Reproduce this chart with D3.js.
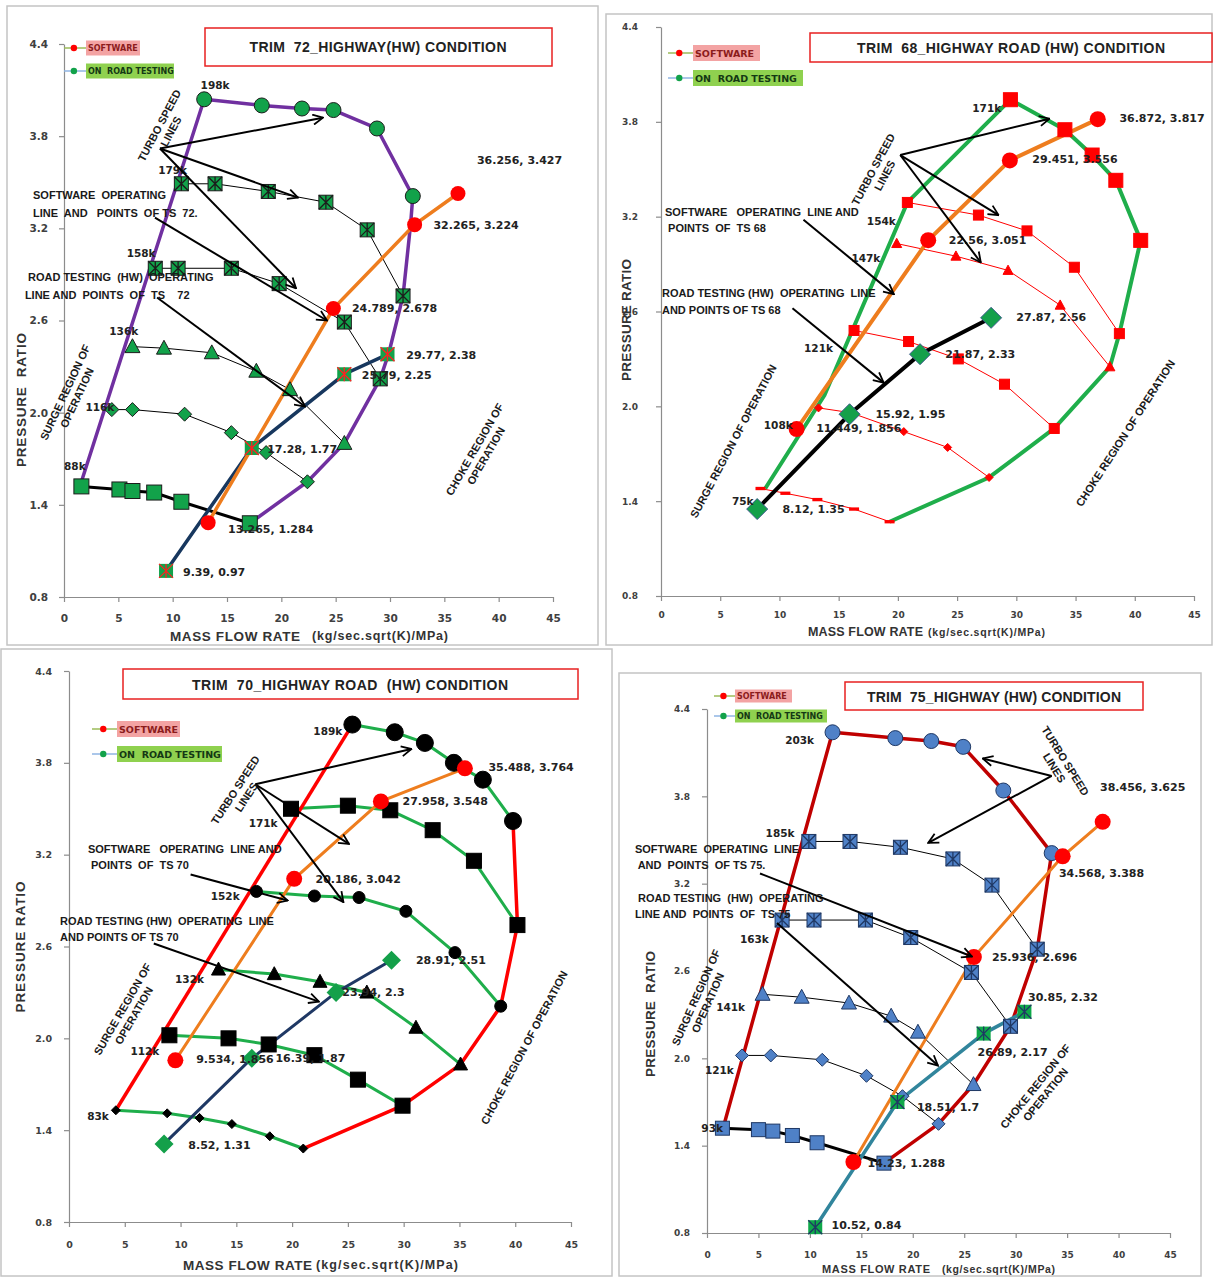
<!DOCTYPE html>
<html>
<head>
<meta charset="utf-8">
<script src="https://cdn.jsdelivr.net/npm/d3@7"></script>
<style>
  body { margin: 0; background: #fff; }
  svg { display: block; }
</style>
</head>
<body>
<script>
// ---------- data ----------
const xTicks = [0, 5, 10, 15, 20, 25, 30, 35, 40, 45];
const yTicks = [0.8, 1.4, 2.0, 2.6, 3.2, 3.8, 4.4];
const legendNames = ["SOFTWARE", "ON  ROAD TESTING"];

// TRIM 72 - highway
const t72Speeds = ["198k", "179k", "158k", "136k", "116k", "88k"];
const t72Lines = [
  [[12.9,4.04],[18.2,4.0],[21.9,3.98],[24.8,3.97],[28.8,3.85],[32.1,3.41]],
  [[10.8,3.49],[13.9,3.49],[18.8,3.44],[24.1,3.37],[27.9,3.19],[31.2,2.76]],
  [[8.4,2.94],[10.5,2.94],[15.4,2.94],[19.8,2.84],[25.8,2.59],[29.1,2.22]],
  [[6.3,2.43],[9.2,2.42],[13.6,2.39],[17.7,2.27],[20.8,2.15],[25.8,1.80]],
  [[4.4,2.02],[6.3,2.02],[11.1,1.99],[15.4,1.87],[18.6,1.74],[22.4,1.55]],
  [[1.6,1.52],[5.1,1.50],[6.3,1.49],[8.3,1.48],[10.8,1.42],[17.1,1.28]]
];
const t72Edge = [[[1.6,1.55],[12.9,4.04],[18.2,4.0],[21.9,3.98],[24.8,3.97],[28.8,3.85],[32.1,3.41],
  [31.9,3.23],[31.2,2.76],[29.9,2.39],[29.1,2.22],[25.8,1.80],[22.4,1.55],[17.1,1.28]]];
const t72Soft = [[13.265,1.284],[24.789,2.678],[32.265,3.224],[36.256,3.427]];
const t72Road = [[9.39,0.97],[17.28,1.77],[25.79,2.25],[29.77,2.38]];

// TRIM 68 - highway road
const t68Speeds = ["171k", "154k", "147k", "121k", "108k", "75k"];
const t68Lines = [
  [[29.5,3.94],[34.1,3.75],[36.4,3.59],[38.4,3.43],[40.5,3.05]],
  [[20.8,3.29],[26.8,3.21],[30.9,3.11],[34.9,2.88],[38.7,2.46]],
  [[19.9,3.03],[24.9,2.95],[29.3,2.86],[33.7,2.64],[37.9,2.25]],
  [[16.3,2.48],[20.9,2.41],[25.1,2.30],[29.0,2.14],[33.2,1.86]],
  [[13.3,1.99],[16.0,1.96],[20.5,1.84],[24.2,1.74],[27.7,1.55]],
  [[8.4,1.48],[10.5,1.45],[13.2,1.41],[16.3,1.35],[19.3,1.27]]
];
const t68Edge = [[[8.8,1.48],[13.8,2.07],[20.8,3.29],[29.5,3.94],[34.1,3.75],[36.4,3.59],[38.4,3.43],
  [40.5,3.05],[38.7,2.46],[37.9,2.25],[33.2,1.86],[27.7,1.55],[19.3,1.27]]];
const t68Soft = [[11.449,1.856],[22.56,3.051],[29.451,3.556],[36.872,3.817]];
const t68Road = [[8.12,1.35],[15.92,1.95],[21.87,2.33],[27.87,2.56]];

// TRIM 70 - highway road
const t70Speeds = ["189k", "171k", "152k", "132k", "112k", "83k"];
const t70Lines = [
  [[25.4,4.05],[29.2,4.0],[31.9,3.93],[34.5,3.80],[37.1,3.69],[39.8,3.42]],
  [[19.9,3.50],[25.0,3.52],[28.8,3.49],[32.6,3.36],[36.3,3.16],[40.2,2.74]],
  [[16.8,2.96],[22.0,2.93],[26.0,2.92],[30.2,2.83],[34.6,2.56],[38.7,2.21]],
  [[13.4,2.45],[18.4,2.42],[22.5,2.37],[26.7,2.30],[31.1,2.07],[35.1,1.83]],
  [[9.0,2.02],[14.3,2.0],[17.9,1.96],[22.0,1.89],[25.9,1.73],[29.9,1.56]],
  [[4.2,1.53],[8.8,1.51],[11.7,1.48],[14.6,1.44],[18.0,1.36],[21.0,1.28]]
];
const t70Edge = [[[4.2,1.53],[25.4,4.05]],
  [[39.8,3.42],[40.2,2.74],[38.7,2.21],[35.1,1.83],[29.9,1.56],[21.0,1.28]]];
const t70Soft = [[9.534,1.856],[20.186,3.042],[27.958,3.548],[35.488,3.764]];
const t70Road = [[8.52,1.31],[16.39,1.87],[23.94,2.3],[28.91,2.51]];

// TRIM 75 - highway
const t75Speeds = ["203k", "185k", "163k", "141k", "121k", "93k"];
const t75Lines = [
  [[12.2,4.24],[18.3,4.20],[21.8,4.18],[24.9,4.14],[28.8,3.84],[33.5,3.41]],
  [[9.9,3.49],[13.9,3.49],[18.8,3.45],[23.9,3.37],[27.7,3.19],[32.1,2.75]],
  [[7.3,2.95],[10.4,2.95],[15.4,2.95],[19.8,2.83],[25.7,2.59],[29.5,2.22]],
  [[5.4,2.44],[9.2,2.42],[13.8,2.38],[17.9,2.29],[20.5,2.18],[25.9,1.82]],
  [[3.4,2.02],[6.2,2.02],[11.2,1.99],[15.5,1.88],[19.0,1.74],[22.5,1.55]],
  [[1.5,1.52],[5.0,1.51],[6.4,1.50],[8.3,1.47],[10.7,1.42],[17.2,1.28]]
];
const t75Edge = [[[1.6,1.53],[12.2,4.24],[18.3,4.20],[21.8,4.18],[24.9,4.14],[28.8,3.84],[33.5,3.41],
  [32.1,2.75],[29.5,2.22],[25.9,1.82],[22.5,1.55],[17.2,1.28]]];
const t75Soft = [[14.23,1.288],[25.936,2.696],[34.568,3.388],[38.456,3.625]];
const t75Road = [[10.52,0.84],[18.51,1.7],[26.89,2.17],[30.85,2.32]];

// ---------- layout / style per panel ----------
const ORANGE = "#ee7d1e";
const panels = [
  {
    frame: [7, 6, 598, 645], plot: [64, 553, 597, 44], xPad: 13, yPad: 11, tickFs: 10.5,
    title: "TRIM  72_HIGHWAY(HW) CONDITION", tBox: [205, 28, 552, 66], tPos: [378, 47, 257],
    yTitle: ["PRESSURE  RATIO", 21, 400, 134], xTitle: [170, 636, 130, 312, 136, 13.5, 12.5],
    leg: {x: 64, bx: 86, y: 48, dy: 23, h: 15, w: [54, 88], fs: 8},
    speeds: t72Speeds, lines: t72Lines, edge: t72Edge, soft: t72Soft, road: t72Road,
    spColor: "#000", spW: [1, 1, 1, 1, 1, 3],
    shapes: ["circle", "xsquare", "xsquare", "triangle", "diamond", "square"], sizes: [15, 14, 14, 15, 14, 15],
    mFill: "#12a24a", mStroke: "#1c1c1c", xColor: "#1c1c1c",
    edgeColor: "#7030a0", edgeW: 3.5, softW: 3.5, softR: 7.5,
    roadColor: "#17375e", roadW: 3.5, roadShape: "xsquare", roadSize: 14, roadFill: "#12a24a", roadX: "#ff2020", roadStroke: "none",
    speedLab: [[13.9,4.13],[10.0,3.58],[7.1,3.04],[5.5,2.53],[3.3,2.04],[1.0,1.65]],
    softLab: [[15.1,1.24],[26.5,2.675],[34.0,3.22],[38.0,3.64]],
    roadLab: [[10.95,0.96],[18.7,1.76],[27.4,2.245],[31.5,2.375]],
    arrows: [[8.83,3.72,23.83,3.92],[8.83,3.72,21.53,3.40],[8.83,3.72,21.35,2.81],[8.37,3.27,24.2,2.60],[8.56,2.75,22.18,2.04]],
    notes: [
      {x: 9.3, y: 3.85, rot: -62, lh: 13, lines: ["TURBO SPEED", "LINES"]},
      {x: -2.85, y: 3.36, anchor: "start", lh: 18, lines: ["SOFTWARE  OPERATING", "LINE  AND   POINTS  OF TS  72."]},
      {x: -3.6, y: 2.825, anchor: "start", lh: 18, lines: [" ROAD TESTING  (HW)  OPERATING", "LINE AND  POINTS  OF  TS    72"]},
      {x: 0.64, y: 2.115, rot: -65, lh: 13, lines: ["SURGE REGION OF", "OPERATION"]},
      {x: 38.3, y: 1.74, rot: -60, lh: 13, lines: ["CHOKE REGION OF", "OPERATION"]}
    ]
  },
  {
    frame: [606, 14, 1212, 645], plot: [661, 1194, 596, 27], xPad: 11, yPad: 18, tickFs: 9,
    title: "TRIM  68_HIGHWAY ROAD (HW) CONDITION", tBox: [810, 33, 1212, 62], tPos: [1011, 48, 308],
    yTitle: ["PRESSURE RATIO", 626, 320, 122], xTitle: [808, 632, 115, 928, 117, 12.5, 10.5],
    leg: {x: 668, bx: 693, y: 53, dy: 25, h: 16, w: [67, 110], fs: 9.5},
    speeds: t68Speeds, lines: t68Lines, edge: t68Edge, soft: t68Soft, road: t68Road,
    spColor: "#ff0000", spW: [1, 1, 1, 1, 1, 1],
    shapes: ["square", "square", "triangle", "square", "diamond", "dash"], sizes: [14, 10, 10, 10, 8, 10],
    mFill: "#ff0000", mStroke: "#ff0000", xColor: "#c00000",
    edgeColor: "#1fae4b", edgeW: 4, softW: 4, softR: 8,
    roadColor: "#000", roadW: 4, roadShape: "diamond", roadSize: 21, roadFill: "#14a04a", roadX: "none", roadStroke: "#3a5a8a",
    speedLab: [[27.5,3.89],[18.6,3.17],[17.3,2.94],[13.3,2.37],[9.9,1.88],[6.9,1.40]],
    softLab: [[13.1,1.86],[24.3,3.05],[31.35,3.56],[38.7,3.82]],
    roadLab: [[10.25,1.345],[18.1,1.95],[24.0,2.33],[30.0,2.56]],
    arrows: [[20.2,3.59,32.8,3.82],[20.2,3.59,28.5,3.21],[20.2,3.59,27.0,2.91],[12.03,3.18,19.66,2.71],[11.1,2.62,18.8,2.15]],
    notes: [
      {x: 18.4, y: 3.48, rot: -62, lh: 13, lines: ["TURBO SPEED", "LINES"]},
      {x: 0.34, y: 3.18, anchor: "start", lh: 16, lines: ["SOFTWARE   OPERATING  LINE AND", " POINTS  OF  TS 68"]},
      {x: 0.08, y: 2.665, anchor: "start", lh: 17, lines: ["ROAD TESTING (HW)  OPERATING  LINE", "AND POINTS OF TS 68"]},
      {x: 6.1, y: 1.78, rot: -62, lh: 13, lines: ["SURGE REGION OF OPERATION"]},
      {x: 39.2, y: 1.83, rot: -57, lh: 13, lines: ["CHOKE REGION OF OPERATION"]}
    ]
  },
  {
    frame: [1, 649, 612, 1276], plot: [69, 571, 1222, 671], xPad: 14, yPad: 12, tickFs: 9.5,
    title: "TRIM  70_HIGHWAY ROAD  (HW) CONDITION", tBox: [123, 669, 578, 699], tPos: [350, 685, 316],
    yTitle: ["PRESSURE RATIO", 20, 947, 131], xTitle: [183, 1265, 129, 316, 142, 13.5, 12.5],
    leg: {x: 92, bx: 117, y: 729, dy: 25, h: 16, w: [63, 105], fs: 9.5},
    speeds: t70Speeds, lines: t70Lines, edge: t70Edge, soft: t70Soft, road: t70Road,
    spColor: "#1fae4b", spW: [3, 3, 3, 3, 3, 3],
    shapes: ["circle", "square", "circle", "triangle", "square", "diamond"], sizes: [17, 15, 12, 14, 15, 9],
    mFill: "#000", mStroke: "#000", xColor: "#000",
    edgeColor: "#ff0000", edgeW: 3.5, softW: 3, softR: 8,
    roadColor: "#1f3864", roadW: 3, roadShape: "diamond", roadSize: 19, roadFill: "#14a04a", roadX: "none", roadStroke: "none",
    speedLab: [[23.2,4.01],[17.4,3.41],[14.0,2.93],[10.8,2.39],[6.8,1.92],[2.6,1.49]],
    softLab: [[11.4,1.86],[22.1,3.04],[29.9,3.55],[37.6,3.77]],
    roadLab: [[10.7,1.30],[18.5,1.87],[24.5,2.30],[31.1,2.51]],
    arrows: [[16.7,3.66,30.7,3.89],[16.7,3.66,25.1,3.27],[16.7,3.66,24.6,2.89],[10.9,3.07,19.6,2.90],[7.6,2.62,22.4,2.24]],
    notes: [
      {x: 15.4, y: 3.60, rot: -57, lh: 13, lines: ["TURBO SPEED", "LINES"]},
      {x: 1.7, y: 3.185, anchor: "start", lh: 16, lines: ["SOFTWARE   OPERATING  LINE AND", " POINTS  OF  TS 70"]},
      {x: -0.8, y: 2.715, anchor: "start", lh: 16, lines: ["ROAD TESTING (HW)  OPERATING  LINE", "AND POINTS OF TS 70"]},
      {x: 5.3, y: 2.17, rot: -60, lh: 13, lines: ["SURGE REGION OF", "OPERATION"]},
      {x: 40.8, y: 1.94, rot: -62, lh: 13, lines: ["CHOKE REGION OF OPERATION"]}
    ]
  },
  {
    frame: [619, 673, 1201, 1276], plot: [707, 1170, 1233, 709], xPad: 14, yPad: 12, tickFs: 9,
    title: "TRIM  75_HIGHWAY (HW) CONDITION", tBox: [845, 682, 1143, 710], tPos: [994, 697, 254],
    yTitle: ["PRESSURE  RATIO", 650, 1014, 126], xTitle: [822, 1269, 108, 942, 113, 11, 10.5],
    leg: {x: 714, bx: 735, y: 696, dy: 20, h: 13, w: [57, 92], fs: 8},
    speeds: t75Speeds, lines: t75Lines, edge: t75Edge, soft: t75Soft, road: t75Road,
    spColor: "#000", spW: [1, 1, 1, 1, 1, 3],
    shapes: ["circle", "xsquare", "xsquare", "triangle", "diamond", "square"], sizes: [15, 14, 14, 15, 13, 14],
    mFill: "#4f81c7", mStroke: "#1f3864", xColor: "#1f3864",
    edgeColor: "#c00000", edgeW: 3.5, softW: 3, softR: 8,
    roadColor: "#31859c", roadW: 3.5, roadShape: "xsquare", roadSize: 14, roadFill: "#0fa84a", roadX: "#1f3864", roadStroke: "none",
    speedLab: [[9.0,4.19],[7.1,3.55],[4.6,2.82],[2.3,2.35],[1.2,1.92],[0.5,1.52]],
    softLab: [[15.6,1.28],[27.7,2.69],[34.2,3.27],[38.2,3.86]],
    roadLab: [[12.1,0.85],[20.4,1.66],[26.3,2.04],[31.2,2.42]],
    arrows: [[33.5,3.94,26.8,4.06],[33.5,3.94,21.5,3.48],[5.15,3.27,25.75,2.70],[6.8,2.93,22.45,1.95]],
    notes: [
      {x: 34.3, y: 4.02, rot: 58, lh: 13, lines: ["TURBO SPEED", "LINES"]},
      {x: -7.0, y: 3.38, anchor: "start", lh: 16, lines: ["SOFTWARE  OPERATING  LINE", " AND  POINTS  OF TS 75."]},
      {x: -7.0, y: 3.045, anchor: "start", lh: 16, lines: [" ROAD TESTING  (HW)  OPERATING", "LINE AND  POINTS  OF  TS 75"]},
      {x: -0.5, y: 2.40, rot: -66, lh: 13, lines: ["SURGE REGION OF", "OPERATION"]},
      {x: 32.4, y: 1.78, rot: -51, lh: 13, lines: ["CHOKE REGION OF", "OPERATION"]}
    ]
  }
];

// ---------- drawing ----------
const SANS = "'Liberation Sans', Arial, sans-serif";
const WIDE = "'DejaVu Sans', Verdana, sans-serif";

const svg = d3.select("body").append("svg")
  .attr("width", 1213).attr("height", 1277)
  .style("font-family", SANS);

svg.append("defs").append("marker")
  .attr("id", "arr").attr("viewBox", "0 0 12 12")
  .attr("refX", 11).attr("refY", 6)
  .attr("markerWidth", 12).attr("markerHeight", 12)
  .attr("markerUnits", "userSpaceOnUse").attr("orient", "auto")
  .append("path").attr("d", "M1,1 L11,6 L1,11")
  .attr("fill", "none").attr("stroke", "#000").attr("stroke-width", 1.8);

function mark(g, shape, px, py, s, fill, stroke, xc) {
  const h = s / 2;
  if (shape === "circle") {
    g.append("circle").attr("cx", px).attr("cy", py).attr("r", h)
      .attr("fill", fill).attr("stroke", stroke).attr("stroke-width", 1);
  } else if (shape === "square" || shape === "xsquare") {
    g.append("rect").attr("x", px - h).attr("y", py - h).attr("width", s).attr("height", s)
      .attr("fill", fill).attr("stroke", stroke).attr("stroke-width", 1);
    if (shape === "xsquare" && xc !== "none") {
      g.append("path")
        .attr("d", `M${px-h},${py-h}L${px+h},${py+h}M${px+h},${py-h}L${px-h},${py+h}M${px},${py-h}L${px},${py+h}`)
        .attr("stroke", xc).attr("stroke-width", 1.3);
    }
  } else if (shape === "triangle") {
    g.append("path").attr("d", `M${px},${py-h*1.05}L${px+h},${py+h*0.8}L${px-h},${py+h*0.8}Z`)
      .attr("fill", fill).attr("stroke", stroke).attr("stroke-width", 1);
  } else if (shape === "diamond") {
    g.append("path").attr("d", `M${px},${py-h}L${px+h},${py}L${px},${py+h}L${px-h},${py}Z`)
      .attr("fill", fill).attr("stroke", stroke).attr("stroke-width", 1);
  } else if (shape === "dash") {
    g.append("rect").attr("x", px - h).attr("y", py - s / 6).attr("width", s).attr("height", s / 3)
      .attr("fill", fill);
  }
}

function drawPanel(p) {
  const g = svg.append("g");
  const x = d3.scaleLinear().domain([0, 45]).range([p.plot[0], p.plot[1]]);
  const y = d3.scaleLinear().domain([0.8, 4.4]).range([p.plot[2], p.plot[3]]);
  const line = d3.line().x(d => x(d[0])).y(d => y(d[1]));

  g.append("rect")
    .attr("x", p.frame[0]).attr("y", p.frame[1])
    .attr("width", p.frame[2] - p.frame[0]).attr("height", p.frame[3] - p.frame[1])
    .attr("fill", "#fff").attr("stroke", "#c4c4c4").attr("stroke-width", 1.5);

  // axes
  const ax = g.append("g").attr("transform", `translate(0,${p.plot[2]})`)
    .call(d3.axisBottom(x).tickValues(xTicks).tickSize(5).tickSizeOuter(0)
      .tickPadding(p.xPad).tickFormat(d3.format("d")));
  const ay = g.append("g").attr("transform", `translate(${p.plot[0]},0)`)
    .call(d3.axisLeft(y).tickValues(yTicks).tickSize(5).tickSizeOuter(0)
      .tickPadding(p.yPad).tickFormat(d3.format(".1f")));
  [ax, ay].forEach(a => {
    a.selectAll("path,line").attr("stroke", "#8c8c8c").attr("stroke-width", 1.2);
    a.selectAll("text").attr("font-size", p.tickFs).attr("font-weight", "bold")
      .attr("fill", "#404040").attr("font-family", WIDE);
  });

  // axis titles
  g.append("text")
    .attr("transform", `translate(${p.yTitle[1]},${p.yTitle[2]}) rotate(-90)`)
    .attr("text-anchor", "middle").attr("dominant-baseline", "central")
    .attr("font-size", 13.5).attr("font-weight", "bold").attr("fill", "#333")
    .attr("textLength", p.yTitle[3]).attr("xml:space", "preserve").style("white-space", "pre")
    .text(p.yTitle[0]);
  const xt = p.xTitle;
  g.append("text").attr("x", xt[0]).attr("y", xt[1]).attr("dominant-baseline", "central")
    .attr("font-size", xt[5]).attr("font-weight", "bold").attr("fill", "#333")
    .attr("textLength", xt[2]).text("MASS FLOW RATE");
  g.append("text").attr("x", xt[3]).attr("y", xt[1]).attr("dominant-baseline", "central")
    .attr("font-size", xt[6]).attr("font-weight", "bold").attr("fill", "#333")
    .attr("textLength", xt[4]).text("(kg/sec.sqrt(K)/MPa)");

  // lines
  g.selectAll(null).data(p.lines).join("path")
    .attr("d", line).attr("fill", "none")
    .attr("stroke", p.spColor).attr("stroke-width", (d, i) => p.spW[i]);
  g.selectAll(null).data(p.edge).join("path")
    .attr("d", line).attr("fill", "none")
    .attr("stroke", p.edgeColor).attr("stroke-width", p.edgeW).attr("stroke-linejoin", "round");
  g.append("path").datum(p.road).attr("d", line).attr("fill", "none")
    .attr("stroke", p.roadColor).attr("stroke-width", p.roadW);
  g.append("path").datum(p.soft).attr("d", line).attr("fill", "none")
    .attr("stroke", ORANGE).attr("stroke-width", p.softW);

  // markers
  p.lines.forEach((pts, i) => {
    pts.forEach(d => mark(g, p.shapes[i], x(d[0]), y(d[1]), p.sizes[i], p.mFill, p.mStroke, p.xColor));
  });
  p.soft.forEach(d => g.append("circle").attr("cx", x(d[0])).attr("cy", y(d[1]))
    .attr("r", p.softR).attr("fill", "#ff0000"));
  p.road.forEach(d => mark(g, p.roadShape, x(d[0]), y(d[1]), p.roadSize, p.roadFill, p.roadStroke, p.roadX));

  // speed labels
  g.selectAll(null).data(p.speeds).join("text")
    .attr("x", (d, i) => x(p.speedLab[i][0])).attr("y", (d, i) => y(p.speedLab[i][1]))
    .attr("text-anchor", "middle").attr("dominant-baseline", "central")
    .attr("font-family", WIDE).attr("font-size", 10.5).attr("font-weight", "bold").attr("fill", "#222")
    .text(d => d);

  // value labels
  const valLabel = (pts, pos) => g.selectAll(null).data(pts).join("text")
    .attr("x", (d, i) => x(pos[i][0])).attr("y", (d, i) => y(pos[i][1]))
    .attr("dominant-baseline", "central")
    .attr("font-family", WIDE).attr("font-size", 11).attr("font-weight", "bold").attr("fill", "#222")
    .text(d => `${d[0]}, ${d[1]}`);
  valLabel(p.soft, p.softLab);
  valLabel(p.road, p.roadLab);

  // annotation arrows and notes
  g.selectAll(null).data(p.arrows).join("line")
    .attr("x1", d => x(d[0])).attr("y1", d => y(d[1]))
    .attr("x2", d => x(d[2])).attr("y2", d => y(d[3]))
    .attr("stroke", "#000").attr("stroke-width", 2).attr("marker-end", "url(#arr)");
  p.notes.forEach(t => {
    const tg = g.append("g").attr("transform", `translate(${x(t.x)},${y(t.y)}) rotate(${t.rot || 0})`);
    const n = t.lines.length;
    t.lines.forEach((s, i) => tg.append("text")
      .attr("x", 0).attr("y", (i - (n - 1) / 2) * t.lh)
      .attr("text-anchor", t.anchor || "middle").attr("dominant-baseline", "central")
      .attr("font-size", 11).attr("font-weight", "bold").attr("fill", "#1a1a1a")
      .attr("xml:space", "preserve").style("white-space", "pre")
      .text(s));
  });

  // title
  g.append("rect").attr("x", p.tBox[0]).attr("y", p.tBox[1])
    .attr("width", p.tBox[2] - p.tBox[0]).attr("height", p.tBox[3] - p.tBox[1])
    .attr("fill", "#fff").attr("stroke", "#e82020").attr("stroke-width", 1.5);
  g.append("text").attr("x", p.tPos[0]).attr("y", p.tPos[1])
    .attr("text-anchor", "middle").attr("dominant-baseline", "central")
    .attr("font-size", 14).attr("font-weight", "bold").attr("fill", "#222")
    .attr("textLength", p.tPos[2]).attr("xml:space", "preserve").style("white-space", "pre")
    .text(p.title);

  // legend
  const L = p.leg;
  const legStyle = [
    {dot: "#ff0000", bg: "#f3a3a3", fg: "#8b1c1c", ln: "#9bbb59"},
    {dot: "#12a24a", bg: "#8fd14f", fg: "#143814", ln: "#8fb4e3"}
  ];
  legendNames.forEach((name, i) => {
    const yy = L.y + i * L.dy, st = legStyle[i];
    g.append("line").attr("x1", L.x).attr("x2", L.bx).attr("y1", yy).attr("y2", yy)
      .attr("stroke", st.ln).attr("stroke-width", 1.5);
    g.append("circle").attr("cx", L.x + (L.bx - L.x) * 0.45).attr("cy", yy).attr("r", 3.2).attr("fill", st.dot);
    g.append("rect").attr("x", L.bx).attr("y", yy - L.h / 2).attr("width", L.w[i]).attr("height", L.h)
      .attr("fill", st.bg);
    g.append("text").attr("x", L.bx + 2).attr("y", yy).attr("dominant-baseline", "central")
      .attr("font-family", WIDE).attr("font-size", L.fs).attr("font-weight", "bold").attr("fill", st.fg)
      .attr("xml:space", "preserve").style("white-space", "pre")
      .text(name);
  });
}

panels.forEach(drawPanel);
</script>
</body>
</html>
